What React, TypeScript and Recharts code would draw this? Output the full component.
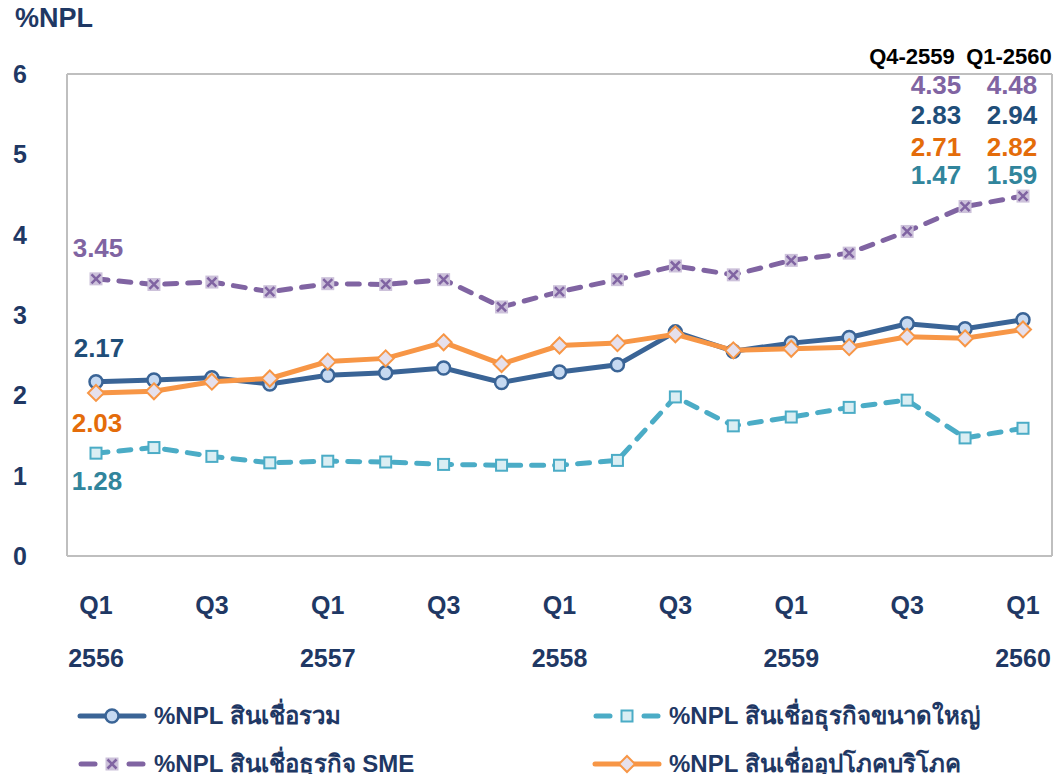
import { Line, LineChart, XAxis, YAxis } from "recharts";

const quarters = ["Q1", "Q2", "Q3", "Q4", "Q1", "Q2", "Q3", "Q4", "Q1", "Q2", "Q3", "Q4", "Q1", "Q2", "Q3", "Q4", "Q1"];
const years = ["2556", "2556", "2556", "2556", "2557", "2557", "2557", "2557", "2558", "2558", "2558", "2558", "2559", "2559", "2559", "2559", "2560"];

const totalNpl = [2.17, 2.19, 2.22, 2.14, 2.25, 2.28, 2.34, 2.16, 2.29, 2.38, 2.79, 2.55, 2.65, 2.72, 2.89, 2.83, 2.94];
const largeNpl = [1.28, 1.35, 1.24, 1.16, 1.18, 1.17, 1.14, 1.13, 1.13, 1.19, 1.98, 1.62, 1.73, 1.85, 1.94, 1.47, 1.59];
const smeNpl = [3.45, 3.38, 3.41, 3.29, 3.39, 3.38, 3.44, 3.1, 3.29, 3.44, 3.61, 3.5, 3.68, 3.77, 4.04, 4.35, 4.48];
const consumerNpl = [2.03, 2.05, 2.17, 2.21, 2.42, 2.46, 2.66, 2.39, 2.62, 2.65, 2.76, 2.56, 2.58, 2.6, 2.73, 2.71, 2.82];

const yTicks = [0, 1, 2, 3, 4, 5, 6];

const legendNames = {
  total: "%NPL สินเชื่อรวม",
  large: "%NPL สินเชื่อธุรกิจขนาดใหญ่",
  sme: "%NPL สินเชื่อธุรกิจ SME",
  consumer: "%NPL สินเชื่ออุปโภคบริโภค",
};

const data = quarters.map((q, i) => ({
  period: `${q}-${years[i]}`,
  total: totalNpl[i],
  large: largeNpl[i],
  sme: smeNpl[i],
  consumer: consumerNpl[i],
}));

const NAVY = "#1F3864";
const BORDER = "#BFBFBF";
const FONT = '"Liberation Sans", Arial, "Noto Sans", sans-serif';

const COLORS = {
  total: { line: "#3A6496", fill: "#C6D9F1", text: "#1F4E79" },
  large: { line: "#4BACC6", fill: "#DAEEF3", text: "#31859C" },
  sme: { line: "#8064A2", fill: "#CCC1DA", text: "#8064A2" },
  consumer: { line: "#F79646", fill: "#E6E0EC", text: "#E46C0A" },
};

const CircleDot = (props: any) => {
  const { cx, cy } = props;
  if (cx == null || cy == null) return null;
  return <circle cx={cx} cy={cy} r={6.5} fill={COLORS.total.fill} stroke={COLORS.total.line} strokeWidth={2.5} />;
};

const SquareDot = (props: any) => {
  const { cx, cy } = props;
  if (cx == null || cy == null) return null;
  return <rect x={cx - 5.5} y={cy - 5.5} width={11} height={11} fill={COLORS.large.fill} stroke={COLORS.large.line} strokeWidth={2} />;
};

const CrossDot = (props: any) => {
  const { cx, cy } = props;
  if (cx == null || cy == null) return null;
  return (
    <g>
      <rect x={cx - 6.5} y={cy - 6.5} width={13} height={13} fill={COLORS.sme.fill} />
      <path d={`M${cx - 4.5},${cy - 4.5}L${cx + 4.5},${cy + 4.5}M${cx + 4.5},${cy - 4.5}L${cx - 4.5},${cy + 4.5}`} stroke={COLORS.sme.line} strokeWidth={2.5} />
    </g>
  );
};

const DiamondDot = (props: any) => {
  const { cx, cy } = props;
  if (cx == null || cy == null) return null;
  return (
    <path
      d={`M${cx},${cy - 8}L${cx + 8},${cy}L${cx},${cy + 8}L${cx - 8},${cy}Z`}
      fill={COLORS.consumer.fill}
      stroke={COLORS.consumer.line}
      strokeWidth={2}
    />
  );
};

const QuarterTick = (props: any) => {
  const { x, y, payload } = props;
  const i = payload.index;
  return (
    <g>
      <text x={x} y={y + 41} dy="0.35em" textAnchor="middle" fill={NAVY} fontSize={25} fontWeight="bold" fontFamily={FONT}>
        {quarters[i]}
      </text>
      {quarters[i] === "Q1" && (
        <text x={x} y={y + 94} dy="0.35em" textAnchor="middle" fill={NAVY} fontSize={25} fontWeight="bold" fontFamily={FONT}>
          {years[i]}
        </text>
      )}
    </g>
  );
};

const LegendIcon = ({ kind }: { kind: keyof typeof COLORS }) => {
  const c = COLORS[kind];
  const dashed = kind === "large" || kind === "sme";
  return (
    <svg width={72} height={20} style={{ display: "block" }}>
      {dashed ? (
        <g stroke={c.line} strokeWidth={5} strokeLinecap="round">
          <line x1={5} y1={10} x2={19} y2={10} />
          <line x1={53} y1={10} x2={67} y2={10} />
        </g>
      ) : (
        <line x1={4} y1={10} x2={68} y2={10} stroke={c.line} strokeWidth={5} strokeLinecap="round" />
      )}
      {kind === "total" && <CircleDot cx={36} cy={10} />}
      {kind === "large" && <SquareDot cx={36} cy={10} />}
      {kind === "sme" && <CrossDot cx={36} cy={10} />}
      {kind === "consumer" && <DiamondDot cx={36} cy={10} />}
    </svg>
  );
};

const LegendItem = ({ kind, left, top }: { kind: keyof typeof COLORS; left: number; top: number }) => (
  <div style={{ position: "absolute", left, top, height: 24, display: "flex", alignItems: "center", gap: 6 }}>
    <LegendIcon kind={kind} />
    <span style={{ fontSize: 24, lineHeight: "24px", fontWeight: "bold", color: NAVY, fontFamily: FONT, whiteSpace: "nowrap" }}>
      {legendNames[kind]}
    </span>
  </div>
);

const ValueText = ({ value, color, cx, cy, size = 26 }: { value: string; color: string; cx: number; cy: number; size?: number }) => (
  <div
    style={{
      position: "absolute",
      left: cx - 45,
      top: cy - 20,
      width: 90,
      height: 40,
      lineHeight: "40px",
      textAlign: "center",
      whiteSpace: "nowrap",
      fontSize: size,
      fontWeight: "bold",
      color,
      fontFamily: FONT,
    }}
  >
    {value}
  </div>
);

export default function App() {
  const last = data.length - 1;
  const prev = data.length - 2;
  return (
    <div style={{ position: "relative", width: 1055, height: 766, fontFamily: FONT, background: "#fff" }}>
      <LineChart width={1055} height={680} data={data} margin={{ top: 65, right: 10, bottom: 0, left: 0 }}>
        <XAxis
          dataKey="period"
          interval={1}
          tick={<QuarterTick />}
          tickLine={false}
          height={132}
          padding={{ left: 29, right: 29 }}
          axisLine={{ stroke: BORDER, strokeWidth: 2 }}
        />
        <XAxis
          xAxisId="top"
          dataKey="period"
          orientation="top"
          height={1}
          tick={false}
          tickLine={false}
          axisLine={{ stroke: BORDER, strokeWidth: 2 }}
        />
        <YAxis
          domain={[0, 6]}
          ticks={yTicks}
          width={59}
          tickLine={false}
          tickSize={0}
          tickMargin={40}
          axisLine={{ stroke: BORDER, strokeWidth: 2 }}
          tick={{ fill: NAVY, fontSize: 25, fontWeight: "bold", fontFamily: FONT }}
        />
        <YAxis
          yAxisId="right"
          orientation="right"
          domain={[0, 6]}
          width={1}
          tick={false}
          tickLine={false}
          axisLine={{ stroke: BORDER, strokeWidth: 2 }}
        />
        <Line
          dataKey="large"
          stroke={COLORS.large.line}
          strokeWidth={5}
          strokeDasharray="12 11"
          strokeLinecap="round"
          dot={<SquareDot />}
          activeDot={false}
          isAnimationActive={false}
        />
        <Line
          dataKey="sme"
          stroke={COLORS.sme.line}
          strokeWidth={5}
          strokeDasharray="12 11"
          strokeLinecap="round"
          dot={<CrossDot />}
          activeDot={false}
          isAnimationActive={false}
        />
        <Line
          dataKey="total"
          stroke={COLORS.total.line}
          strokeWidth={5}
          dot={<CircleDot />}
          activeDot={false}
          isAnimationActive={false}
        />
        <Line
          dataKey="consumer"
          stroke={COLORS.consumer.line}
          strokeWidth={5}
          dot={<DiamondDot />}
          activeDot={false}
          isAnimationActive={false}
        />
      </LineChart>

      <div style={{ position: "absolute", left: 7, top: 0, fontSize: 27, fontWeight: "bold", color: NAVY, lineHeight: "20px" }}>
        %NPL
      </div>

      <ValueText value={data[prev].period} color="#000" cx={904} cy={49} size={22} />
      <ValueText value={data[last].period} color="#000" cx={1001} cy={49} size={22} />

      <ValueText value={smeNpl[prev].toFixed(2)} color={COLORS.sme.text} cx={928} cy={77} />
      <ValueText value={smeNpl[last].toFixed(2)} color={COLORS.sme.text} cx={1004} cy={77} />
      <ValueText value={totalNpl[prev].toFixed(2)} color={COLORS.total.text} cx={928} cy={107} />
      <ValueText value={totalNpl[last].toFixed(2)} color={COLORS.total.text} cx={1004} cy={107} />
      <ValueText value={consumerNpl[prev].toFixed(2)} color={COLORS.consumer.text} cx={928} cy={139} />
      <ValueText value={consumerNpl[last].toFixed(2)} color={COLORS.consumer.text} cx={1004} cy={139} />
      <ValueText value={largeNpl[prev].toFixed(2)} color={COLORS.large.text} cx={928} cy={167} />
      <ValueText value={largeNpl[last].toFixed(2)} color={COLORS.large.text} cx={1004} cy={167} />

      <ValueText value={smeNpl[0].toFixed(2)} color={COLORS.sme.text} cx={90} cy={240} />
      <ValueText value={totalNpl[0].toFixed(2)} color={COLORS.total.text} cx={91} cy={340} />
      <ValueText value={consumerNpl[0].toFixed(2)} color={COLORS.consumer.text} cx={89} cy={415} />
      <ValueText value={largeNpl[0].toFixed(2)} color={COLORS.large.text} cx={89} cy={473} />

      <LegendItem kind="total" left={68} top={696} />
      <LegendItem kind="large" left={583} top={696} />
      <LegendItem kind="sme" left={68} top={744} />
      <LegendItem kind="consumer" left={583} top={744} />
    </div>
  );
}
